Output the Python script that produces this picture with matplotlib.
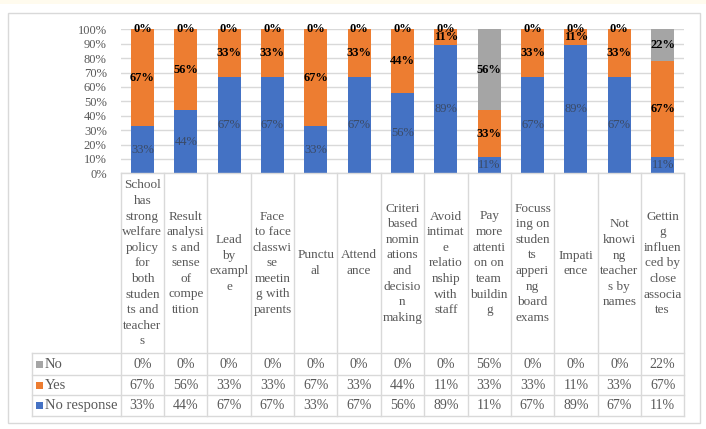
import numpy as np
import matplotlib
matplotlib.use("Agg")
import matplotlib.pyplot as plt
from matplotlib.patches import Rectangle

# data (share of responses)
categories = [
    "School\nhas\nstrong\nwelfare\npolicy\nfor\nboth\nstuden\nts and\nteacher\ns",
    "Result\nanalysi\ns and\nsense\nof\ncompe\ntition",
    "Lead\nby\nexampl\ne",
    "Face\nto face\nclasswi\nse\nmeetin\ng with\nparents",
    "Punctu\nal",
    "Attend\nance",
    "Criteri\nbased\nnomin\nations\nand\ndecisio\nn\nmaking",
    "Avoid\nintimat\ne\nrelatio\nnship\nwith\nstaff",
    "Pay\nmore\nattenti\non on\nteam\nbuildin\ng",
    "Focuss\ning on\nstuden\nts\napperi\nng\nboard\nexams",
    "Impati\nence",
    "Not\nknowi\nng\nteacher\ns by\nnames",
    "Gettin\ng\ninfluen\nced by\nclose\nassocia\ntes",
]
no_response = [33, 44, 67, 67, 33, 67, 56, 89, 11, 67, 89, 67, 11]
yes = [67, 56, 33, 33, 67, 33, 44, 11, 33, 33, 11, 33, 67]
no = [0, 0, 0, 0, 0, 0, 0, 0, 56, 0, 0, 0, 22]
yticks = [0, 10, 20, 30, 40, 50, 60, 70, 80, 90, 100]

series = [("No response", no_response, "#4472C4"),
          ("Yes", yes, "#ED7D31"),
          ("No", no, "#A5A5A5")]

plt.rcParams['font.family'] = ['Liberation Serif', 'DejaVu Serif']
W, H = 706, 429
fig = plt.figure(figsize=(W / 100, H / 100), dpi=100)
fig.patch.set_facecolor("white")

# faint cream strip on top + outer chart border
fig.add_artist(Rectangle((0, 1 - 4 / H), 1, 4 / H, transform=fig.transFigure,
                         facecolor="#FFFBEE", edgecolor="none"))
fig.add_artist(Rectangle((7.5 / W, 1 - 423 / H), (700 - 7.5) / W, (423 - 13) / H,
                         transform=fig.transFigure, facecolor="none",
                         edgecolor="#D9D9D9", lw=1))

x0, x1 = 120.7, 684.3
ytop, ybot = 29.3, 173.3
n = len(categories)
colw = (x1 - x0) / n

ax = fig.add_axes([x0 / W, 1 - ybot / H, (x1 - x0) / W, (ybot - ytop) / H])
x = np.arange(n)
bottom = np.zeros(n)
for name, vals, col in series:
    v = np.array(vals, dtype=float)
    ax.bar(x, v, 0.53, bottom=bottom, color=col, zorder=2)
    for i in range(n):
        if name == "No" and v[i] == 0:
            yy = 100
        else:
            yy = bottom[i] + v[i] / 2
        if name == "No response":
            ax.text(i, yy, f"{int(v[i])}%", ha="center", va="center",
                    fontsize=9, color="#3A4A66", zorder=3)
        else:
            ax.text(i, yy, f"{int(v[i])}%", ha="center", va="center",
                    fontsize=9, fontweight="bold", color="black", zorder=3)
    bottom += v

ax.set_xlim(-0.5, n - 0.5)
ax.set_ylim(0, 100)
ax.set_yticks(yticks)
ax.set_yticklabels([f"{t}%" for t in yticks], fontsize=9, color="#595959")
ax.tick_params(axis="y", length=0, pad=10)
ax.set_xticks([])
ax.grid(axis="y", color="#D9D9D9", lw=1, zorder=0)
for s in ax.spines.values():
    s.set_visible(False)

# data table below the chart
tab_left = 31.7
rows = [("No", no, "#A5A5A5"), ("Yes", yes, "#ED7D31"),
        ("No response", no_response, "#4472C4")]
row_edges = [173.3, 353.3, 375.0, 395.3, 416.0]
tax = fig.add_axes([0, 0, 1, 1])
tax.set_xlim(0, W)
tax.set_ylim(H, 0)
tax.axis("off")
tax.patch.set_alpha(0)
lc = "#D9D9D9"
# vertical lines
for k in range(n + 1):
    xx = x0 + k * colw
    tax.plot([xx, xx], [row_edges[0], row_edges[-1]], color=lc, lw=1)
tax.plot([tab_left, tab_left], [row_edges[1], row_edges[-1]], color=lc, lw=1)
# horizontal lines
tax.plot([x0, x1], [row_edges[0], row_edges[0]], color=lc, lw=1)
for ye in row_edges[1:]:
    tax.plot([tab_left, x1], [ye, ye], color=lc, lw=1)

for k, lab in enumerate(categories):
    tax.text(x0 + (k + 0.5) * colw, (row_edges[0] + row_edges[1]) / 2, lab,
             ha="center", va="center", fontsize=9.5, color="#595959",
             linespacing=1.40)

for r, (name, vals, col) in enumerate(rows):
    yc = (row_edges[r + 1] + row_edges[r + 2]) / 2
    tax.add_patch(Rectangle((tab_left + 4, yc - 3.5), 7, 7, facecolor=col,
                            edgecolor="none"))
    tax.text(tab_left + 13, yc, name, ha="left", va="center", fontsize=10.5,
             color="#595959")
    for k, v in enumerate(vals):
        tax.text(x0 + (k + 0.5) * colw, yc, f"{v}%", ha="center", va="center",
                 fontsize=10, color="#595959")

fig.savefig("out.png", dpi=100)
